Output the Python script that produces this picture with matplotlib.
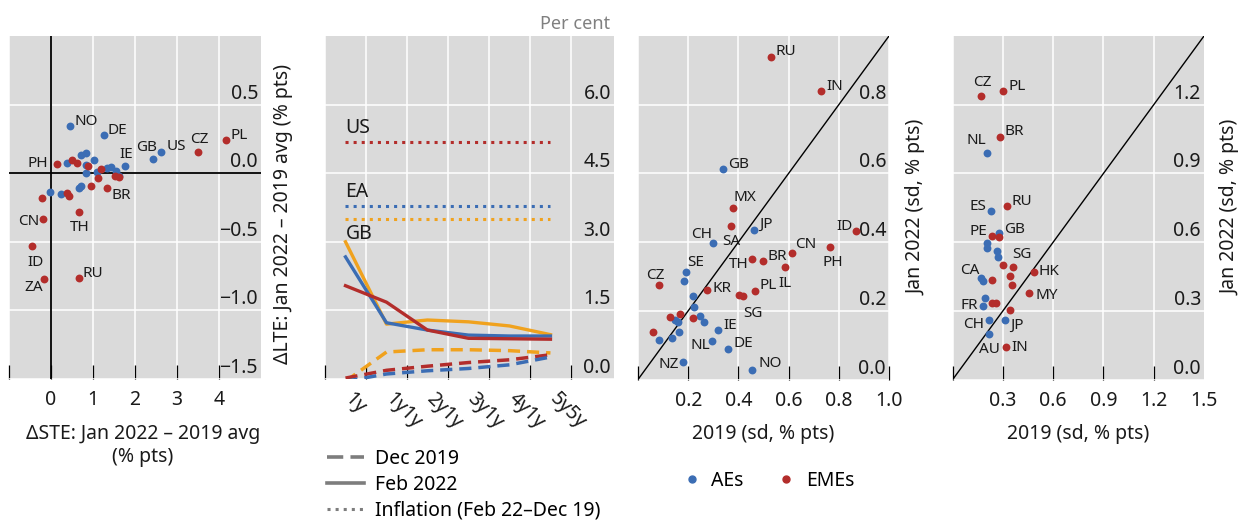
import matplotlib
matplotlib.use("Agg")
import numpy as np
from matplotlib import pyplot as plt
from matplotlib.lines import Line2D
from matplotlib.transforms import ScaledTranslation

plt.rcParams["font.family"] = ["Noto Sans", "DejaVu Sans"]

BLUE = "#3b6db4"
RED = "#b32d2b"
YELLOW = "#f0a21e"
GREY = "#7d7d7d"
PANEL_BG = "#dadada"
TEXT = "#1a1a1a"
FS = 14
LABEL_FS = 11

W, H = 1238, 522

# ---- panel 1: change in short- vs long-term expectations (% pts)
p1_ae_names = ["NO", "DE", "GB", "US", "IE", "", "", "", "", "", "", "", "", "", "", "", "", "", "", ""]
p1_ae_x = [0.46, 1.25, 2.42, 2.63, 1.75, 0.38, 0.72, 0.83, 1.03, 0.83, 0.83, 1.10, 1.33, 1.44,
           1.555, 1.63, -0.02, 0.245, 0.67, 0.72]
p1_ae_y = [0.343, 0.28, 0.101, 0.155, 0.051, 0.077, 0.13, 0.147, 0.094, 0.058, 0.002, 0.01, 0.041,
           0.046, 0.017, -0.019, -0.135, -0.154, -0.111, -0.092]
p1_eme_names = ["CZ", "PL", "PH", "", "", "", "", "", "", "", "", "", "", "BR", "", "TH", "CN", "ID", "ZA", "RU"]
p1_eme_x = [3.51, 4.16, 0.133, 0.50, 0.63, 0.87, 1.20, 1.11, 1.53, 1.61, 0.38, 0.42, 0.96, 1.33,
            -0.215, 0.67, -0.19, -0.45, -0.16, 0.66]
p1_eme_y = [0.155, 0.239, 0.07, 0.099, 0.075, 0.053, 0.027, -0.034, -0.019, -0.027, -0.143, -0.167,
            -0.092, -0.106, -0.18, -0.28, -0.336, -0.534, -0.77, -0.766]
p1_xticks = [-1, 0, 1, 2, 3, 4]
p1_yticks = [-1.5, -1.0, -0.5, 0.0, 0.5]

# ---- panel 2: inflation expectations by tenor (per cent)
tenors = ["1y", "1y1y", "2y1y", "3y1y", "4y1y", "5y5y"]
feb22_us = [2.04, 1.68, 1.07, 0.89, 0.88, 0.87]
feb22_ea = [2.67, 1.23, 1.07, 0.96, 0.94, 0.94]
feb22_gb = [3.00, 1.20, 1.29, 1.25, 1.16, 0.97]
dec19_us = [0.02, 0.19, 0.28, 0.36, 0.42, 0.53]
dec19_ea = [-0.05, 0.11, 0.18, 0.23, 0.31, 0.48]
dec19_gb = [-0.05, 0.59, 0.64, 0.64, 0.62, 0.57]
infl_regions = ["US", "EA", "GB"]
infl_change = [5.18, 3.79, 3.49]
p2_yticks = [0.0, 1.5, 3.0, 4.5, 6.0]

# ---- panel 3: dispersion, 2019 vs Jan 2022 (sd, % pts)
p3_ae_names = ["GB", "JP", "CH", "SE", "", "", "", "", "", "", "", "IE", "", "", "", "NL", "DE", "NZ", "NO"]
p3_ae_x = [0.339, 0.463, 0.297, 0.191, 0.184, 0.22, 0.223, 0.249, 0.147, 0.16, 0.262, 0.319, 0.164,
           0.134, 0.0835, 0.293, 0.357, 0.18, 0.456]
p3_ae_y = [0.612, 0.435, 0.397, 0.314, 0.286, 0.243, 0.211, 0.185, 0.172, 0.166, 0.166, 0.143, 0.137,
           0.121, 0.114, 0.112, 0.09, 0.052, 0.028]
p3_eme_names = ["RU", "IN", "MX", "SA", "ID", "PH", "CN", "TH", "BR", "IL", "CZ", "KR", "PL", "", "SG", "", "", "", ""]
p3_eme_x = [0.528, 0.73, 0.379, 0.37, 0.867, 0.766, 0.614, 0.455, 0.498, 0.587, 0.0835, 0.276, 0.466,
            0.402, 0.419, 0.127, 0.167, 0.22, 0.061]
p3_eme_y = [0.94, 0.84, 0.499, 0.446, 0.433, 0.387, 0.368, 0.351, 0.344, 0.327, 0.276, 0.262, 0.259,
            0.245, 0.243, 0.182, 0.192, 0.18, 0.139]
p3_ticks = [0.0, 0.2, 0.4, 0.6, 0.8, 1.0]

# ---- panel 4: dispersion, 2019 vs Jan 2022 (sd, % pts)
p4_ae_names = ["NL", "ES", "GB", "", "", "", "", "CA", "", "", "FR", "CH", "JP", "AU"]
p4_ae_x = [0.203, 0.227, 0.278, 0.206, 0.206, 0.262, 0.272, 0.167, 0.183, 0.193, 0.183, 0.218, 0.312, 0.216]
p4_ae_y = [0.99, 0.734, 0.638, 0.595, 0.573, 0.559, 0.534, 0.443, 0.43, 0.356, 0.321, 0.259, 0.262, 0.20]
p4_eme_names = ["CZ", "PL", "BR", "RU", "PE", "", "", "SG", "", "HK", "", "", "MY", "", "", "", "IN"]
p4_eme_x = [0.169, 0.298, 0.28, 0.322, 0.234, 0.276, 0.298, 0.358, 0.342, 0.485, 0.236, 0.352, 0.457,
            0.236, 0.258, 0.344, 0.318]
p4_eme_y = [1.24, 1.259, 1.06, 0.756, 0.625, 0.621, 0.502, 0.493, 0.454, 0.469, 0.433, 0.411, 0.377,
            0.336, 0.334, 0.305, 0.14]
p4_ticks = [0.0, 0.3, 0.6, 0.9, 1.2, 1.5]

# label placement: name -> (dx px, dy px, ha)
p1_place = {"NO": (4, 5, "left"), "DE": (4, 4, "left"), "GB": (4, 12, "right"), "US": (5, 5, "left"),
            "IE": (2, 12, "center"), "CZ": (1, 12, "center"), "PL": (5, 5, "left"), "PH": (-8, 0, "right"),
            "BR": (5, -8, "left"), "TH": (1, -16, "center"), "CN": (-4, -2, "right"),
            "ID": (3, -16, "center"), "ZA": (-1, -9, "right"), "RU": (4, 5, "left")}
p3_place = {"RU": (5, 5, "left"), "IN": (5, 4, "left"), "GB": (5, 5, "left"), "MX": (0, 11, "left"),
            "JP": (5, 6, "left"), "CH": (0, 9, "right"), "SA": (-9, -15, "left"), "ID": (-3, 4, "right"),
            "PH": (3, -16, "center"), "CN": (3, 9, "left"), "TH": (-4, -6, "right"), "BR": (5, 5, "left"),
            "IL": (0, -16, "center"), "SE": (1, 9, "left"), "CZ": (-4, 9, "center"), "KR": (5, 1, "left"),
            "PL": (5, 5, "left"), "SG": (10, -17, "center"), "IE": (5, 5, "left"), "NL": (-1, -4, "right"),
            "DE": (6, 5, "left"), "NZ": (-4, -3, "right"), "NO": (6, 6, "left")}
p4_place = {"CZ": (1, 13, "center"), "PL": (6, 5, "left"), "BR": (5, 5, "left"), "NL": (-1, 12, "right"),
            "RU": (5, 5, "left"), "ES": (-4, 5, "right"), "GB": (5, 4, "left"), "PE": (-5, 5, "right"),
            "SG": (0, 12, "left"), "HK": (5, 1, "left"), "CA": (-1, 8, "right"), "MY": (6, -2, "left"),
            "FR": (-5, 0, "right"), "CH": (-5, -4, "right"), "JP": (5, -6, "left"),
            "AU": (1, -16, "center"), "IN": (5, 0, "left")}


def fmt(v):
    return f"{v:.1f}".replace("-", "\u2212")


def axes_px(fig, left, top, right, bottom):
    return fig.add_axes([left / W, 1 - bottom / H, (right - left) / W, (bottom - top) / H])


def style_panel(ax):
    ax.set_facecolor(PANEL_BG)
    for s in ax.spines.values():
        s.set_visible(False)
    ax.grid(True, color="white", lw=1.1)
    ax.set_axisbelow(True)
    ax.tick_params(axis="x", direction="in", length=10, width=0.9, color="black",
                   labelsize=FS, pad=8, labelcolor=TEXT)


def inside_yticks(ax, ticks):
    ax.set_yticks(ticks)
    ax.tick_params(axis="y", length=0, labelleft=False, labelright=False)
    for t in ticks:
        ax.annotate(fmt(t), xy=(1, t), xycoords=ax.get_yaxis_transform(),
                    xytext=(-3, 1), textcoords="offset pixels",
                    ha="right", va="bottom", fontsize=FS, color=TEXT)


def right_ylabel(ax, text, x, y):
    ax.yaxis.set_label_position("right")
    ax.set_ylabel(text, fontsize=FS, color=TEXT)
    ax.yaxis.set_label_coords(x, y)


def scatter_group(ax, names, xs, ys, color, place):
    ax.scatter(xs, ys, s=32, color=color, linewidths=0, zorder=3)
    for n, x, y in zip(names, xs, ys):
        if n in place:
            dx, dy, ha = place[n]
            ax.annotate(n, (x, y), xytext=(dx, dy), textcoords="offset pixels",
                        ha=ha, va="center", fontsize=LABEL_FS, color=TEXT)


fig = plt.figure(figsize=(W / 100, H / 100), dpi=100)

# panel 1
ax1 = axes_px(fig, 9, 36, 261, 379)
style_panel(ax1)
ax1.set_xlim(-1, 5)
ax1.set_ylim(-1.5, 1.0)
ax1.set_xticks(p1_xticks, [""] + [str(t) for t in p1_xticks[1:]])
inside_yticks(ax1, p1_yticks)
ax1.axhline(0, color="black", lw=1.3, zorder=2)
ax1.axvline(0, color="black", lw=1.3, zorder=2)
scatter_group(ax1, p1_ae_names, p1_ae_x, p1_ae_y, BLUE, p1_place)
scatter_group(ax1, p1_eme_names, p1_eme_x, p1_eme_y, RED, p1_place)
ax1.set_xlabel("\u0394STE: Jan 2022 \u2013 2019 avg\n(% pts)", fontsize=FS, color=TEXT, linespacing=1.25)
ax1.xaxis.set_label_coords(0.532, -0.13)
right_ylabel(ax1, "\u0394LTE: Jan 2022 \u2013 2019 avg (% pts)", 1.048, 0.48)

# panel 2
ax2 = axes_px(fig, 325, 36, 614, 379)
style_panel(ax2)
xs = np.arange(len(tenors))
ax2.set_xlim(-0.5, 6.55)
ax2.set_ylim(0, 7.5)
bounds = np.arange(-0.5, len(tenors))
ax2.set_xticks(bounds, [""] * len(bounds))
ax2.set_xticks(xs, tenors, minor=True)
ax2.tick_params(axis="x", which="minor", length=0, pad=7, labelsize=FS, labelcolor=TEXT)
shift = ScaledTranslation(-5 / 100, 0, fig.dpi_scale_trans)
for lbl in ax2.get_xticklabels(minor=True):
    lbl.set_rotation(-45)
    lbl.set_ha("left")
    lbl.set_transform(lbl.get_transform() + shift)
inside_yticks(ax2, p2_yticks)
for vals, col in [(feb22_gb, YELLOW), (feb22_ea, BLUE), (feb22_us, RED)]:
    ax2.plot(xs, vals, color=col, lw=2.4, zorder=3)
for vals, col in [(dec19_gb, YELLOW), (dec19_us, RED), (dec19_ea, BLUE)]:
    ax2.plot(xs, vals, color=col, lw=2.5, ls=(0, (3.5, 2.0)), zorder=3)
for name, val, col in zip(infl_regions, infl_change, [RED, BLUE, YELLOW]):
    ax2.plot([xs[0], xs[-1]], [val, val], color=col, lw=2.2, ls=":", zorder=3)
    below = name == "GB"
    ax2.annotate(name, (xs[0], val), xytext=(0, -5 if below else 4), textcoords="offset pixels",
                 ha="left", va="top" if below else "bottom", fontsize=FS, color=TEXT)
ax2.annotate("Per cent", xy=(1, 1), xycoords="axes fraction", xytext=(-4, 3),
             textcoords="offset pixels", ha="right", va="bottom", fontsize=13, color="#808080")

leg_handles = [Line2D([], [], color=GREY, lw=2.6, ls=(0, (4.5, 2.0))),
               Line2D([], [], color=GREY, lw=2.6),
               Line2D([], [], color=GREY, lw=2.2, ls=":")]
fig.legend(leg_handles, ["Dec 2019", "Feb 2022", "Inflation (Feb 22\u2013Dec 19)"],
           loc="upper left", bbox_to_anchor=(327 / W, 1 - 449 / H), frameon=False, fontsize=FS,
           handlelength=1.9, handletextpad=0.55, labelspacing=0.3, borderpad=0, borderaxespad=0)

# panel 3
ax3 = axes_px(fig, 638, 36, 889, 379.5)
style_panel(ax3)
ax3.set_xlim(0, 1)
ax3.set_ylim(0, 1)
ax3.set_xticks(p3_ticks, [""] + [fmt(t) for t in p3_ticks[1:]])
inside_yticks(ax3, p3_ticks[:-1])
ax3.plot(p3_ticks, p3_ticks, color="black", lw=1.0, zorder=2)
scatter_group(ax3, p3_ae_names, p3_ae_x, p3_ae_y, BLUE, p3_place)
scatter_group(ax3, p3_eme_names, p3_eme_x, p3_eme_y, RED, p3_place)
ax3.set_xlabel("2019 (sd, % pts)", fontsize=FS, color=TEXT)
ax3.xaxis.set_label_coords(0.5, -0.13)
right_ylabel(ax3, "Jan 2022 (sd, % pts)", 1.07, 0.5)

grp_handles = [Line2D([], [], color=BLUE, marker="o", ls="", markersize=5),
               Line2D([], [], color=RED, marker="o", ls="", markersize=5)]
fig.legend(grp_handles, ["AEs", "EMEs"], loc="center", bbox_to_anchor=(769 / W, 1 - 481 / H),
           ncol=2, frameon=False, fontsize=FS, handlelength=0.8, handletextpad=0.6,
           columnspacing=1.8, borderpad=0)

# panel 4
ax4 = axes_px(fig, 952.7, 36, 1204, 379.5)
style_panel(ax4)
ax4.set_xlim(0, 1.5)
ax4.set_ylim(0, 1.5)
ax4.set_xticks(p4_ticks[:-1], [""] + [fmt(t) for t in p4_ticks[1:-1]])
for t in p4_ticks[-1:]:
    ax4.annotate(fmt(t), xy=(t, 0), xycoords=ax4.get_xaxis_transform(), xytext=(0, -8),
                 textcoords="offset points", ha="center", va="top", fontsize=FS, color=TEXT,
                 annotation_clip=False)
inside_yticks(ax4, p4_ticks[:-1])
ax4.plot(p4_ticks, p4_ticks, color="black", lw=1.0, zorder=2)
scatter_group(ax4, p4_ae_names, p4_ae_x, p4_ae_y, BLUE, p4_place)
scatter_group(ax4, p4_eme_names, p4_eme_x, p4_eme_y, RED, p4_place)
ax4.set_xlabel("2019 (sd, % pts)", fontsize=FS, color=TEXT)
ax4.xaxis.set_label_coords(0.5, -0.13)
right_ylabel(ax4, "Jan 2022 (sd, % pts)", 1.064, 0.5)

fig.savefig("out.png", dpi=100)
